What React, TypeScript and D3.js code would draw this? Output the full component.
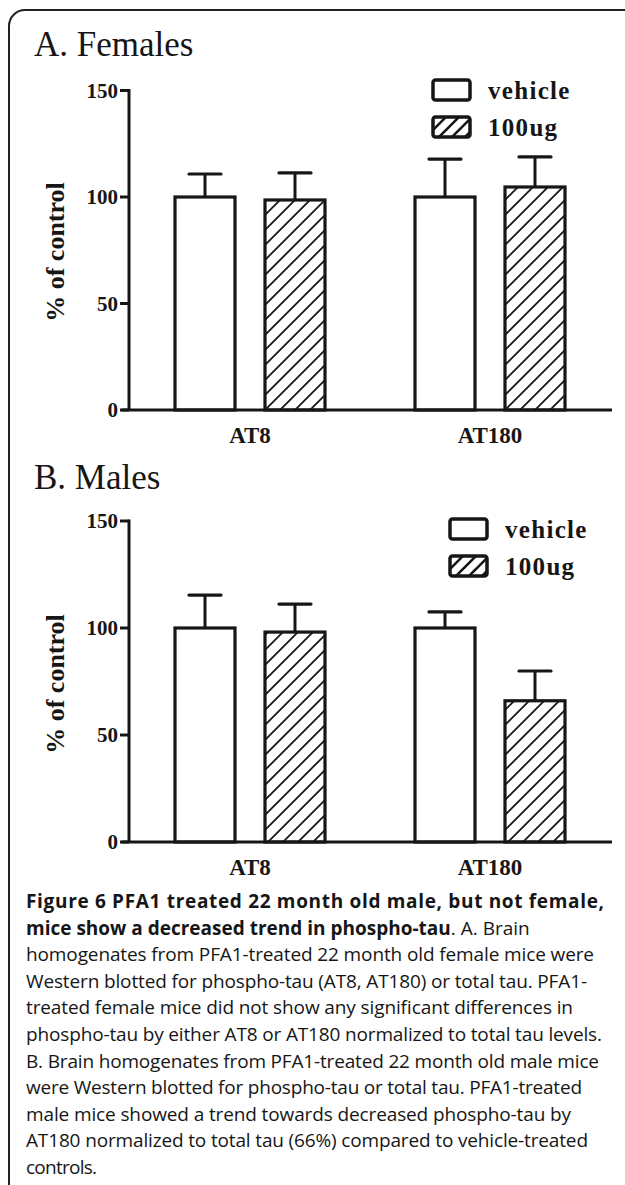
import React from 'react';
import * as d3 from 'd3';

// categories / series
const categories = ['AT8', 'AT180'];
const seriesNames = ['vehicle', '100ug'];
const yTicks = [0, 50, 100, 150];

// A. Females (mean, error)
const femalesVehicleMean = [100, 100];
const femalesVehicleErr = [10.8, 17.8];
const females100ugMean = [98.6, 104.7];
const females100ugErr = [12.7, 14.1];

// B. Males (mean, error)
const malesVehicleMean = [100, 100];
const malesVehicleErr = [15.4, 7.5];
const males100ugMean = [98.1, 66.0];
const males100ugErr = [13.1, 13.9];

const captionBold1 = 'Figure 6 PFA1 treated 22 month old male, but not female,';
const captionBold2 = 'mice show a decreased trend in phospho-tau';
const captionLines = [
  '. A. Brain',
  'homogenates from PFA1-treated 22 month old female mice were',
  'Western blotted for phospho-tau (AT8, AT180) or total tau. PFA1-',
  'treated female mice did not show any significant differences in',
  'phospho-tau by either AT8 or AT180 normalized to total tau levels.',
  'B. Brain homogenates from PFA1-treated 22 month old male mice',
  'were Western blotted for phospho-tau or total tau. PFA1-treated',
  'male mice showed a trend towards decreased phospho-tau by',
  'AT180 normalized to total tau (66%) compared to vehicle-treated',
  'controls.',
];
// measured line lengths in the reference (px), used to justify the caption
const captionLineLengths = [578, 0, 568, 561, 547, 576, 573, 556, 545, 562, 71];

const W = 625;
const H = 1185;
const INK = '#161616';
const SERIF = '"Liberation Serif", "Times New Roman", serif';
const SANS = '"Open Sans", "Noto Sans", sans-serif';

type PanelProps = {
  title: string;
  titleY: number;
  baseY: number;
  topY: number;
  legendX: number;
  legendY: number;
  means: number[][];
  errs: number[][];
};

const Panel: React.FC<PanelProps> = ({ title, titleY, baseY, topY, legendX, legendY, means, errs }) => {
  const y = d3.scaleLinear().domain([0, 150]).range([baseY, topY]);
  const x = d3.scalePoint<string>().domain(categories).range([130, 610]).padding(0.5);
  const sub = d3.scaleBand<string>().domain(seriesNames).range([-75, 75]).paddingInner(1 / 3);
  const bw = sub.bandwidth();
  const axisX = 129;

  return (
    <g>
      <text x={34} y={titleY} fontFamily={SERIF} fontSize={35} fill={INK}>{title}</text>

      {/* bars + error bars */}
      {seriesNames.map((s, si) =>
        categories.map((c, ci) => {
          const m = means[si][ci];
          const e = errs[si][ci];
          const bx = (x(c) as number) + (sub(s) as number);
          const cx = bx + bw / 2;
          return (
            <g key={s + c}>
              <line x1={cx} x2={cx} y1={y(m)} y2={y(m + e)} stroke={INK} strokeWidth={3} />
              <line x1={cx - 16} x2={cx + 16} y1={y(m + e)} y2={y(m + e)} stroke={INK} strokeWidth={3.2} strokeLinecap="round" />
              <rect x={bx} y={y(m)} width={bw} height={baseY - y(m)}
                fill={si === 0 ? '#fff' : 'url(#hatch)'} stroke={INK} strokeWidth={3.2} />
            </g>
          );
        })
      )}

      {/* y axis */}
      <line x1={axisX} x2={axisX} y1={y(150) - 1.5} y2={baseY} stroke={INK} strokeWidth={3} />
      {yTicks.map(t => (
        <g key={t}>
          <line x1={axisX - 9} x2={axisX} y1={y(t)} y2={y(t)} stroke={INK} strokeWidth={3} />
          <text x={axisX - 11} y={y(t)} dy="0.35em" textAnchor="end" fontFamily={SERIF}
            fontWeight="bold" fontSize={21} fill={INK}>{t}</text>
        </g>
      ))}
      <text transform={`translate(64,${baseY - 158}) rotate(-90)`} textAnchor="middle"
        fontFamily={SERIF} fontWeight="bold" fontSize={26} fill={INK}>% of control</text>

      {/* x axis */}
      <line x1={axisX - 7} x2={612} y1={baseY} y2={baseY} stroke={INK} strokeWidth={3} />
      {categories.map(c => (
        <text key={c} x={x(c)} y={baseY + 33} textAnchor="middle" fontFamily={SERIF}
          fontWeight="bold" fontSize={23} fill={INK}>{c}</text>
      ))}

      {/* legend */}
      {seriesNames.map((s, i) => (
        <g key={s} transform={`translate(${legendX},${legendY + i * 37})`}>
          <rect x={0} y={0} width={37} height={20} rx={2.5}
            fill={i === 0 ? '#fff' : 'url(#hatchLegend)'} stroke={INK} strokeWidth={3.5} />
          <text x={55} y={19} fontFamily={SERIF} fontWeight="bold" fontSize={25}
            letterSpacing={1.3} fill={INK}>{s}</text>
        </g>
      ))}
    </g>
  );
};

const App: React.FC = () => {
  const lineY = (i: number) => 908 + i * 26.6;
  return (
    <svg width={W} height={H} viewBox={`0 0 ${W} ${H}`}
      style={{ position: 'absolute', left: 0, top: 0, background: '#fff' }}>
      <defs>
        <pattern id="hatch" patternUnits="userSpaceOnUse" width={15} height={15}>
          <path d="M-3.75,3.75 L3.75,-3.75 M0,15 L15,0 M11.25,18.75 L18.75,11.25"
            stroke={INK} strokeWidth={1.8} />
        </pattern>
        <pattern id="hatchLegend" patternUnits="userSpaceOnUse" width={13} height={13}>
          <path d="M-3.25,3.25 L3.25,-3.25 M0,13 L13,0 M9.75,16.25 L16.25,9.75"
            stroke={INK} strokeWidth={2.6} />
        </pattern>
      </defs>

      {/* frame */}
      <path d={`M${W},10 L25,10 A16,16 0 0 0 9,26 L9,${H}`} fill="none" stroke="#222" strokeWidth={2} />

      <Panel title="A. Females" titleY={56} baseY={410} topY={90.5} legendX={433} legendY={80}
        means={[femalesVehicleMean, females100ugMean]} errs={[femalesVehicleErr, females100ugErr]} />
      <Panel title="B. Males" titleY={489} baseY={842} topY={521} legendX={450} legendY={519}
        means={[malesVehicleMean, males100ugMean]} errs={[malesVehicleErr, males100ugErr]} />

      {/* caption */}
      <g fontFamily={SANS} fontSize={19} fill={INK}>
        <text x={26} y={lineY(0)} fontWeight="bold" textLength={captionLineLengths[0]}
          lengthAdjust="spacing">{captionBold1}</text>
        <text x={26} y={lineY(1)}>
          <tspan fontWeight="bold">{captionBold2}</tspan>
          <tspan>{captionLines[0]}</tspan>
        </text>
        {captionLines.slice(1).map((l, i) => (
          <text key={i} x={26} y={lineY(i + 2)} textLength={captionLineLengths[i + 2]}
            lengthAdjust="spacing">{l}</text>
        ))}
      </g>
    </svg>
  );
};

export default App;
